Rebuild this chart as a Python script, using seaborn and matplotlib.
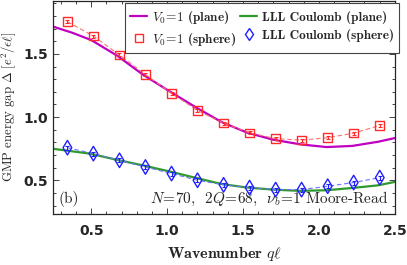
import numpy as np
import pandas as pd
import matplotlib.pyplot as plt
import seaborn as sns
from matplotlib.lines import Line2D
from matplotlib.ticker import MultipleLocator

sns.set_style('ticks')
plt.rcParams['font.family'] = ['cmr10', 'DejaVu Serif']
plt.rcParams['mathtext.fontset'] = 'cm'
plt.rcParams['axes.formatter.use_mathtext'] = False

# Sphere results (q = L / sqrt(Q), 2Q = 68)
q_sphere = [0.343, 0.514, 0.686, 0.857, 1.029, 1.200, 1.372, 1.543, 1.715, 1.886, 2.058, 2.229, 2.401]
gap_v0_sphere = [1.755, 1.642, 1.492, 1.337, 1.189, 1.052, 0.952, 0.876, 0.829, 0.818, 0.837, 0.873, 0.934]
err_v0_sphere = [0.012] * 13
gap_coul_sphere = [0.758, 0.711, 0.658, 0.605, 0.553, 0.500, 0.464, 0.442, 0.426, 0.426, 0.453, 0.482, 0.521]
err_coul_sphere = [0.016] * 13

# Plane results
q_plane_v0 = [0.25, 0.375, 0.50, 0.67, 0.84, 1.00, 1.18, 1.36, 1.53, 1.70, 1.88, 2.05, 2.22, 2.39, 2.50]
gap_v0_plane = [1.716, 1.668, 1.610, 1.487, 1.337, 1.216, 1.084, 0.960, 0.876, 0.821, 0.784, 0.763, 0.772, 0.805, 0.834]
q_plane_coul = [0.25, 0.49, 0.665, 0.84, 1.015, 1.185, 1.36, 1.53, 1.70, 1.875, 2.05, 2.22, 2.39, 2.50]
gap_coul_plane = [0.749, 0.711, 0.663, 0.618, 0.570, 0.520, 0.470, 0.442, 0.426, 0.416, 0.421, 0.439, 0.460, 0.487]

magenta = '#C000C0'
green = '#2E9A2E'
red = '#FF2A2A'
blue = '#1F1FFF'

fig = plt.figure(figsize=(4.07, 2.65), dpi=100)
ax = fig.add_axes([0.131, 0.192, 0.839, 0.805])

# solid plane curves
sns.lineplot(x=q_plane_v0, y=gap_v0_plane, color=magenta, lw=1.6, sort=False, ax=ax)
sns.lineplot(x=q_plane_coul, y=gap_coul_plane, color=green, lw=1.6, sort=False, ax=ax)

# dashed guides through sphere points
sns.lineplot(x=q_sphere, y=gap_v0_sphere, color='#FF7070', lw=0.8, linestyle=(0, (4, 2.5)), ax=ax)
sns.lineplot(x=q_sphere, y=gap_coul_sphere, color='#7070FF', lw=0.8, linestyle=(0, (4, 2.5)), ax=ax)

# error bars + open markers
ax.errorbar(q_sphere, gap_v0_sphere, yerr=err_v0_sphere, fmt='none', ecolor=red, elinewidth=0.8, capsize=1.5, capthick=0.8)
ax.errorbar(q_sphere, gap_coul_sphere, yerr=err_coul_sphere, fmt='none', ecolor=blue, elinewidth=0.8, capsize=1.5, capthick=0.8)
sns.scatterplot(x=q_sphere, y=gap_v0_sphere, marker='s', s=38, facecolor='none', edgecolor=red, linewidth=1.0, ax=ax, zorder=4)
sns.scatterplot(x=q_sphere, y=gap_coul_sphere, marker='d', s=55, facecolor='none', edgecolor=blue, linewidth=1.0, ax=ax, zorder=4)

ax.set_xlim(0.25, 2.5)
ax.set_ylim(0.232, 1.921)

tick_font = dict(fontfamily='DejaVu Sans', fontweight='bold', fontsize=10)
ax.set_xticks([0.5, 1.0, 1.5, 2.0, 2.5], ['0.5', '1.0', '1.5', '2.0', '2.5'], **tick_font)
ax.set_yticks([0.5, 1.0, 1.5], ['0.5', '1.0', '1.5'], **tick_font)
ax.xaxis.set_minor_locator(MultipleLocator(0.1))
ax.yaxis.set_minor_locator(MultipleLocator(0.1))
ax.tick_params(which='both', direction='in', top=True, right=True, width=0.6)
ax.tick_params(axis='x', pad=7)
ax.tick_params(axis='y', pad=4)
ax.tick_params(which='major', length=4)
ax.tick_params(which='minor', length=2)
for s in ax.spines.values():
    s.set_linewidth(0.9)

ax.set_xlabel(r'Wavenumber $q\ell$', fontfamily='cmb10', fontsize=11.5, labelpad=5)
ax.set_ylabel(r'GMP energy gap $\Delta\ [e^2/\epsilon\ell]$', fontsize=9.2)
ax.yaxis.set_label_coords(-0.104, 0.505)

ax.text(0.015, 0.05, '(b)', transform=ax.transAxes, fontsize=11)
ax.text(0.98, 0.05, r'$N\!=\!70$,  $2Q\!=\!68$,  $\nu_b\!=\!1$ Moore-Read',
        transform=ax.transAxes, ha='right', fontsize=11)

handles = [
    Line2D([], [], color=magenta, lw=1.6),
    Line2D([], [], marker='s', ls='none', mfc='none', mec=red, ms=5.5, mew=1.0),
    Line2D([], [], color=green, lw=1.6),
    Line2D([], [], marker='d', ls='none', mfc='none', mec=blue, ms=6.5, mew=1.0),
]
labels = [r'$V_0\!=\!1$ (plane)', r'$V_0\!=\!1$ (sphere)', 'LLL Coulomb (plane)', 'LLL Coulomb (sphere)']
leg = ax.legend(handles, labels, ncol=2, loc='upper right', bbox_to_anchor=(1.013, 0.988),
                prop={'family': 'cmb10', 'size': 9.5}, frameon=True, fancybox=False,
                edgecolor='#444444', framealpha=1, handlelength=1.3, handletextpad=0.35,
                columnspacing=0.3, borderpad=0.4, labelspacing=0.4, borderaxespad=0)
leg.get_frame().set_linewidth(0.8)

fig.savefig('out.png', dpi=100)
